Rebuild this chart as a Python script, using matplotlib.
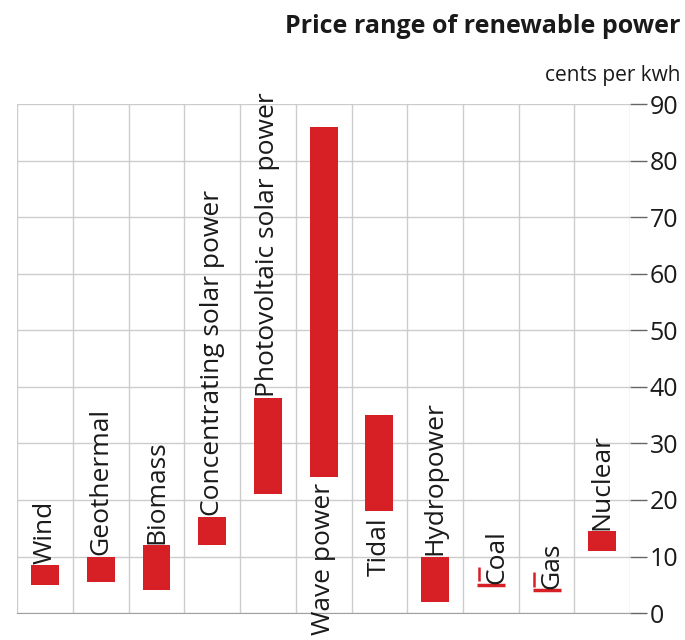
import numpy as np
import matplotlib
matplotlib.use("Agg")
import matplotlib.pyplot as plt

plt.rcParams['font.family'] = ['Open Sans', 'DejaVu Sans']

# data (cents per kwh)
sources = ["Wind", "Geothermal", "Biomass", "Concentrating solar power",
           "Photovoltaic solar power", "Wave power", "Tidal", "Hydropower",
           "Coal", "Gas", "Nuclear"]
low = [5, 5.5, 4, 12, 21, 24, 18, 2, 5, 4, 11]
high = [8.5, 10, 12, 17, 38, 86, 35, 10, 5, 4, 14.5]
label_below = ["Wave power", "Tidal"]
yticks = [0, 10, 20, 30, 40, 50, 60, 70, 80, 90]

red = "#d71f26"
grid = "#cccccc"
ink = "#1a1a1a"

fig = plt.figure(figsize=(6.85, 6.4), dpi=100)
ax = fig.add_axes([0.025, 0.042, 0.895, 0.7955])

x = np.arange(len(sources))
w = 0.5
low = np.array(low, dtype=float)
high = np.array(high, dtype=float)
h = high - low

ax.bar(x, h, bottom=low, width=w, color=red, zorder=3)
# ranges with a single value: thin line plus a small stroke at the left end
flat = h == 0
ax.hlines(low[flat], x[flat] - w / 2, x[flat] + w / 2, color=red, lw=2.5, zorder=3)
ax.vlines(x[flat] - w / 2 + 0.03, low[flat] + 0.6, low[flat] + 3.2, color=red, lw=1.8, zorder=3)

for i, name in enumerate(sources):
    if name in label_below:
        ax.text(x[i], low[i] - 1.0, name, rotation=90, ha="center", va="top",
                fontsize=19, color=ink, clip_on=False, zorder=4)
    else:
        ax.text(x[i] + (0.1 if flat[i] else 0), high[i] + 0.2, name, rotation=90,
                ha="center", va="bottom", fontsize=19, color=ink, zorder=4)

ax.set_xlim(-0.5, len(sources) - 0.5)
ax.set_ylim(0, 90)
ax.set_xticks(np.arange(len(sources) + 1) - 0.5)
ax.set_xticklabels([])
ax.tick_params(axis="x", length=0)
ax.set_yticks(yticks)
ax.yaxis.tick_right()
ax.tick_params(axis="y", length=12, width=1.0, color="#666666", labelsize=18,
               labelcolor=ink, pad=2)
ax.grid(True, color=grid, lw=1.0, zorder=0)
for s in ax.spines.values():
    s.set_visible(False)
ax.spines["bottom"].set_visible(True)
ax.spines["bottom"].set_color("#a0a0a0")

fig.text(0.993, 0.958, "Price range of renewable power", ha="right", va="center",
         fontsize=18, fontweight="bold", color=ink)
fig.text(0.993, 0.882, "cents per kwh", ha="right", va="center",
         fontsize=15, color=ink)

fig.savefig("out.png", dpi=100)
